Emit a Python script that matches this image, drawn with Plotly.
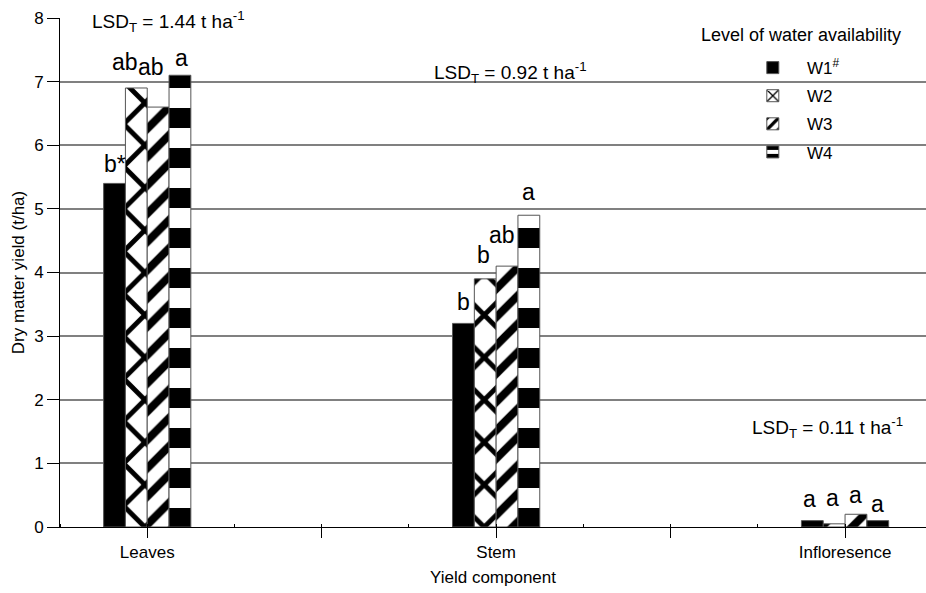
import plotly.graph_objects as go

# ---- data ----
categories = ["Leaves", "Stem", "Infloresence"]
cat_pos = [0, 1, 2]
series_names = ["W1<sup>#</sup>", "W2", "W3", "W4"]
w1 = [5.4, 3.2, 0.1]
w2 = [6.9, 3.9, 0.05]
w3 = [6.6, 4.1, 0.2]
w4 = [7.1, 4.9, 0.1]
letters_w1 = ["b*", "b", "a"]
letters_w2 = ["ab", "b", "a"]
letters_w3 = ["ab", "ab", "a"]
letters_w4 = ["a", "a", "a"]
lsd_values = ["1.44", "0.92", "0.11"]

series_values = [w1, w2, w3, w4]
series_letters = [letters_w1, letters_w2, letters_w3, letters_w4]

# ---- styles ----
FONT = "Liberation Sans, Arial, sans-serif"
patterns = [
    dict(shape=""),
    dict(shape="x", fgcolor="black", bgcolor="white", size=30, solidity=0.3, fgopacity=1),
    dict(shape="/", fgcolor="black", bgcolor="white", size=20, solidity=0.4, fgopacity=1),
    dict(shape="-", fgcolor="black", bgcolor="white", size=40, solidity=0.5, fgopacity=1),
]
colors = ["black", "white", "white", "white"]
bar_w = 0.0625
# pixel shifts for letters (style only): rows = series, cols = category
letter_shift = [
    [4, 6, 7],
    [11, 9, 11],
    [25, 16, 4],
    [2, 8, 2],
]
letter_dx = [
    [0, 0, -3],
    [-11, -2, -2],
    [-7, -5, 0],
    [2, 0, 0],
]
NB = "\u00a0\u00a0\u00a0"

fig = go.Figure()
for i, (name, vals) in enumerate(zip(series_names, series_values)):
    fig.add_trace(go.Bar(
        x=cat_pos, y=vals, name=NB + name, legendgroup=f"g{i}",
        marker=dict(color=colors[i], pattern=patterns[i],
                    line=dict(color="#555555", width=1)),
    ))

annotations = []
for i, (vals, labs) in enumerate(zip(series_values, series_letters)):
    for j, (v, lab) in enumerate(zip(vals, labs)):
        annotations.append(dict(
            x=cat_pos[j] + (i - 1.5) * bar_w, y=v, text=lab,
            showarrow=False, xanchor="center", yanchor="bottom",
            yshift=letter_shift[i][j], xshift=letter_dx[i][j],
            font=dict(family=FONT, size=23, color="black"),
        ))

lsd_pos = [(-0.163, 7.94), (0.817, 7.15), (1.728, 1.56)]
for val, (lx, ly) in zip(lsd_values, lsd_pos):
    annotations.append(dict(
        x=lx, y=ly, text=f"LSD<sub>T</sub> = {val} t ha<sup>-1</sup>",
        showarrow=False, xanchor="left", yanchor="middle",
        font=dict(family=FONT, size=19, color="black"),
    ))

annotations.append(dict(
    x=0.856, y=0.966, xref="paper", yref="paper", text="Level of water availability",
    showarrow=False, xanchor="center", yanchor="middle",
    font=dict(family=FONT, size=18, color="black"),
))

fig.update_layout(
    width=926, height=593,
    margin=dict(l=60, r=0, t=18, b=66),
    paper_bgcolor="white", plot_bgcolor="white",
    barmode="group", bargap=0.75, bargroupgap=0,
    font=dict(family=FONT, size=17, color="black"),
    showlegend=True,
    legend=dict(x=0.8, y=0.937, xanchor="left", yanchor="top",
                bgcolor="rgba(0,0,0,0)", font=dict(family=FONT, size=17),
                tracegroupgap=3, itemwidth=30),
    annotations=annotations,
)
fig.update_xaxes(
    range=[-0.25, 2.232], tickvals=[0, 0.5, 1, 1.5, 2],
    ticktext=[categories[0], "", categories[1], "", categories[2]],
    ticks="outside", ticklen=10, tickcolor="black",
    minor=dict(dtick=0.25, tick0=0, ticks="inside", ticklen=3, tickcolor="black"),
    showline=True, linecolor="black", linewidth=1, showgrid=False, zeroline=False,
    title=dict(text="Yield component", font=dict(family=FONT, size=17), standoff=9),
    tickfont=dict(family=FONT, size=17),
)
fig.update_yaxes(
    range=[0, 8], dtick=1, ticks="outside", ticklen=12, tickcolor="black",
    showline=True, linecolor="black", linewidth=1,
    showgrid=True, gridcolor="#808080", gridwidth=1.5, zeroline=False,
    title=dict(text="Dry matter yield (t/ha)", font=dict(family=FONT, size=17), standoff=5),
    tickfont=dict(family=FONT, size=17),
)
fig.write_html("out.html")
